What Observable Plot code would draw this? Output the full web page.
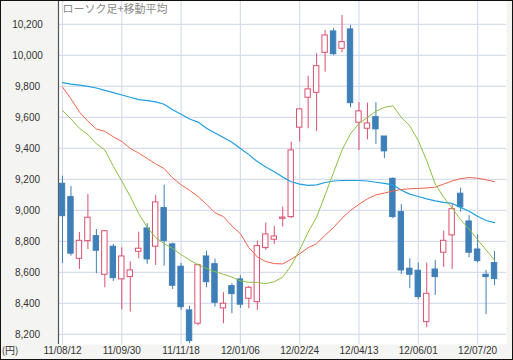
<!DOCTYPE html>
<html>
<head>
<meta charset="utf-8">
<script src="https://cdn.jsdelivr.net/npm/d3@7"></script>
<script src="https://cdn.jsdelivr.net/npm/@observablehq/plot@0.6"></script>
<style>
  html, body { margin: 0; padding: 0; background: #ffffff; }
  #chart { width: 513px; height: 360px; box-sizing: border-box; border: 1px solid #111; overflow: hidden; background: #f4f4f2; }
  #chart svg { display: block; }
</style>
</head>
<body>
<div id="chart"></div>
<script>
// Weekly candles (Fridays) from 2011-08-12 to 2012-08-03
const dates = d3.utcFriday.range(new Date(Date.UTC(2011, 7, 12)), new Date(Date.UTC(2012, 7, 4)));

const open  = [9172,9086,8688,8802,8834,8585,8766,8555,8570,8733,8884,8766,9015,8781,8637,8355,8269,8703,8653,8368,8512,8555,8430,8408,8757,8811,8946,8957,9534,9727,9759,10017,10155,10043,10168,9566,9527,9602,9477,9204,8989,8624,8611,8279,8619,8727,8839,9108,8929,8748,8585,8660];
const high  = [9221,9155,8858,9103,8877,8870,8781,8759,8669,8860,8914,9097,9163,8789,8658,8381,8653,8737,8686,8469,8527,8579,8510,8802,8918,8897,9021,9441,9655,9866,10011,10161,10174,10258,10194,9695,9692,9695,9477,9210,9037,8688,8662,8660,8677,8866,9043,9144,8966,8843,8613,8735];
const low   = [8658,8705,8619,8748,8592,8501,8542,8359,8344,8688,8652,8645,8641,8490,8355,8140,8256,8501,8376,8269,8333,8368,8366,8355,8742,8781,8892,8947,9441,9527,9510,9892,9998,10017,9663,9387,9456,9426,9334,8946,8587,8495,8424,8243,8452,8632,8619,8989,8695,8662,8327,8514];
const close = [8963,8721,8804,8953,8740,8866,8563,8703,8613,8753,8684,9052,8802,8514,8376,8157,8647,8537,8404,8398,8460,8392,8501,8770,8845,8832,8954,9387,9652,9781,9931,10129,10008,10086,9692,9639,9561,9523,9381,8957,8613,8585,8441,8462,8570,8804,9008,9021,8727,8673,8570,8557];

// Moving averages (13, 26, 52 weeks)
const ma13 = [9645,9590,9530,9490,9430,9390,9285,9190,9090,8980,8892,8825,8785,8755,8715,8680,8650,8625,8605,8588,8570,8545,8537,8535,8527,8540,8570,8645,8745,8860,8957,9100,9245,9390,9495,9560,9600,9640,9665,9675,9600,9545,9450,9320,9170,9085,9015,8940,8880,8812,8745,8680];
const ma26 = [9796,9720,9635,9575,9525,9510,9475,9445,9400,9370,9335,9300,9270,9210,9165,9130,9090,9040,8985,8960,8900,8850,8760,8700,8670,8657,8655,8685,8720,8760,8785,8840,8890,8950,9000,9040,9075,9100,9112,9125,9135,9140,9142,9145,9150,9170,9190,9205,9212,9208,9198,9185];
const ma52 = [9824,9815,9808,9800,9790,9775,9760,9745,9730,9715,9708,9700,9685,9650,9620,9590,9570,9530,9500,9470,9440,9400,9360,9315,9280,9250,9215,9185,9170,9162,9165,9180,9190,9193,9193,9193,9190,9182,9175,9165,9130,9105,9090,9075,9062,9052,9045,9020,8995,8962,8935,8921];

const yTicks = [8200,8400,8600,8800,9000,9200,9400,9600,9800,10000,10200];
const xTickLabels = ["11/08/12","11/09/30","11/11/18","12/01/06","12/02/24","12/04/13","12/06/01","12/07/20"];

const title = "ローソク足+移動平均";
const unitLabel = "(円)";

const parseTick = d3.utcParse("%y/%m/%d");
const fmtTick = d3.utcFormat("%y/%m/%d");
const xTicks = xTickLabels.map(parseTick);

const candles = dates.map((d, i) => ({date: d, open: open[i], high: high[i], low: low[i], close: close[i]}));
const ups = candles.filter(d => d.close >= d.open);
const downs = candles.filter(d => d.close < d.open);

const DAY = 864e5;
const t0 = dates[0].getTime();
const xDomain = [new Date(t0 - 3.3 * DAY), new Date(t0 + 366.9 * DAY)];

const gridColor = "#d6ddef";
const upColor = "#dc4f6e";
const downColor = "#3f7fb8";

const chart = Plot.plot({
  width: 511,
  height: 358,
  marginLeft: 57,
  marginRight: 6,
  marginTop: 0,
  marginBottom: 15,
  style: {background: "#f4f4f2", fontFamily: "'Liberation Sans', Arial, 'Noto Sans CJK JP', sans-serif", fontSize: "10px", color: "#333", overflow: "hidden"},
  x: {type: "utc", domain: xDomain, axis: null},
  y: {domain: [8135, 10348], axis: null},
  marks: [
    Plot.frame({fill: "white"}),
    Plot.ruleY(yTicks, {stroke: gridColor, strokeWidth: 1.2}),
    Plot.ruleX(xTicks, {stroke: gridColor, strokeWidth: 1.2}),
    Plot.ruleX([xDomain[0]], {stroke: "#555", strokeWidth: 1.2}),
    // wicks
    Plot.ruleX(downs, {x: "date", y1: "low", y2: "high", stroke: downColor, strokeWidth: 1}),
    Plot.ruleX(ups, {x: "date", y1: "low", y2: "high", stroke: upColor, strokeWidth: 1}),
    // bodies
    Plot.rect(downs, {x1: "date", x2: "date", y1: "open", y2: "close", insetLeft: -2.7, insetRight: -2.7, fill: downColor, stroke: downColor, strokeWidth: 1}),
    Plot.rect(ups, {x1: "date", x2: "date", y1: "open", y2: "close", insetLeft: -2.7, insetRight: -2.7, fill: "white", stroke: upColor, strokeWidth: 1}),
    // moving averages
    Plot.line(dates, {x: d => d, y: ma52, stroke: "#1f9fe0", strokeWidth: 1.2}),
    Plot.line(dates, {x: d => d, y: ma26, stroke: "#f0634c", strokeWidth: 1}),
    Plot.line(dates, {x: d => d, y: ma13, stroke: "#8cc043", strokeWidth: 1}),
    // y tick labels
    Plot.text(yTicks, {y: d => d, text: d => d3.format(",")(d), frameAnchor: "left", dx: -31, textAnchor: "middle", fill: "#333", fontSize: 10}),
    // x tick labels
    Plot.text(xTicks, {x: d => d, text: d => fmtTick(d), frameAnchor: "bottom", dy: 9, textAnchor: "middle", fill: "#333", fontSize: 10}),
    // unit label
    Plot.text([unitLabel], {text: d => d, frameAnchor: "bottom-left", dx: -48.5, dy: 9, textAnchor: "middle", fill: "#333", fontSize: 10, fontFamily: "'Noto Sans CJK JP', sans-serif"}),
    // title
    Plot.text([title], {text: d => d, frameAnchor: "top-left", dx: 4, dy: 7.5, textAnchor: "start", lineAnchor: "middle", fill: "#8a8a8a", fontSize: 11, fontFamily: "'Noto Sans CJK JP', sans-serif"})
  ]
});
document.getElementById("chart").appendChild(chart);
</script>
</body>
</html>
